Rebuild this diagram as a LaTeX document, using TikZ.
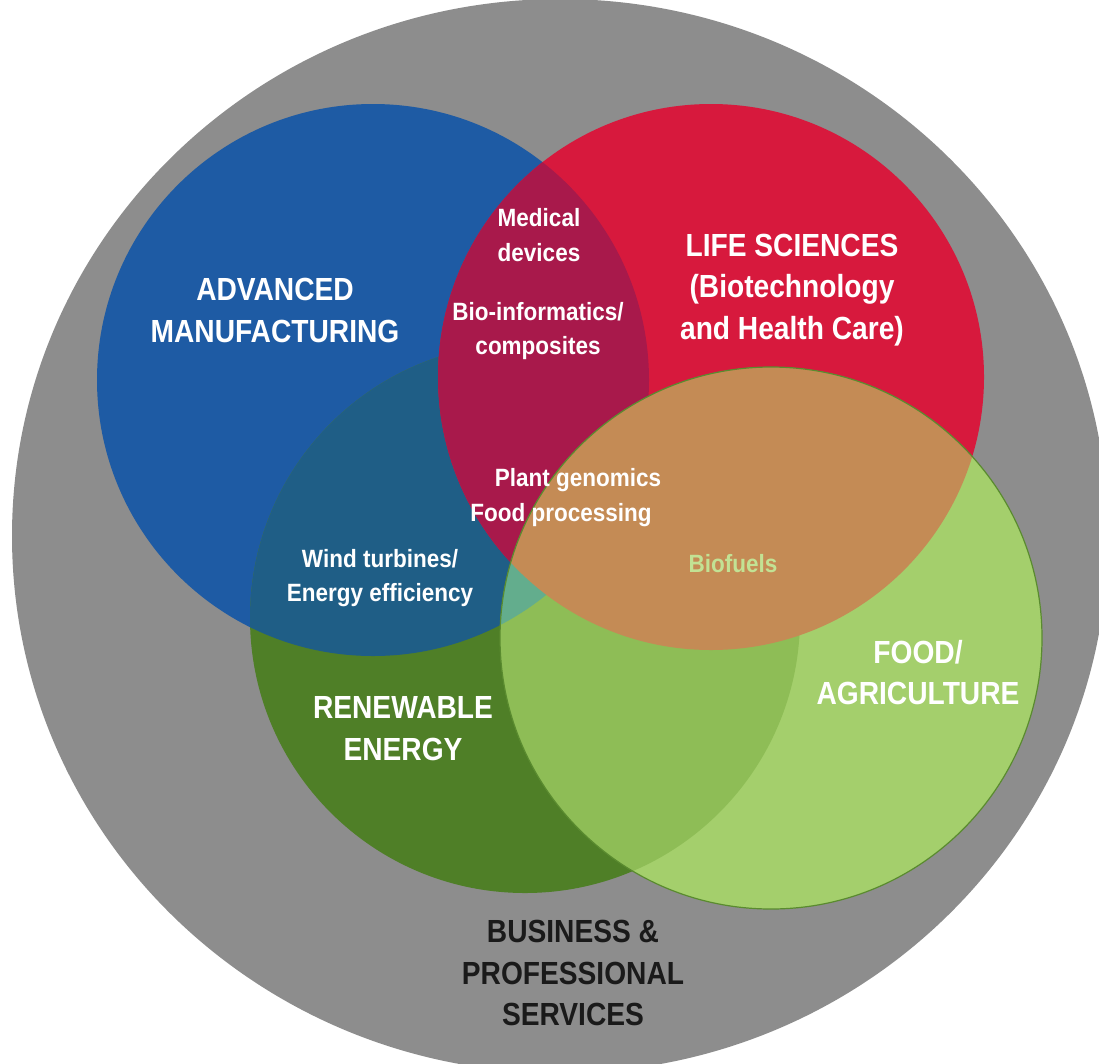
\documentclass[tikz,border=0pt]{standalone}
\usepackage{fontspec}
\setmainfont{Liberation Sans}[FakeStretch=0.9]
\newfontfamily\bigfont{Liberation Sans}[FakeStretch=0.88]
\definecolor{bggray}{HTML}{8D8D8D}
\definecolor{cblue}{HTML}{1E5BA4}
\definecolor{cdg}{HTML}{4F7F27}
\definecolor{cteal}{HTML}{1F5E86}
\definecolor{cred}{HTML}{D7193D}
\definecolor{ccrimson}{HTML}{A8194B}
\definecolor{clg}{HTML}{A4CF6C}
\definecolor{clgdg}{HTML}{8EBD56}
\definecolor{clgblue}{HTML}{63AD8D}
\definecolor{corange}{HTML}{C48B55}
\definecolor{coutline}{HTML}{5A8B2F}
\definecolor{cbiofuel}{HTML}{C2E294}
\definecolor{ctext}{HTML}{1A1A1A}
\begin{document}
\begin{tikzpicture}[x=1pt,y=-1pt,
  biglabel/.style={text=white, font=\bigfont\fontsize{32}{41.5}\selectfont\bfseries, align=center, inner sep=0pt},
  smalllabel/.style={text=white, font=\fontsize{25}{34.5}\selectfont\bfseries, align=center, inner sep=0pt},
  darklabel/.style={biglabel, text=ctext},
]
\useasboundingbox (0,0) rectangle (1099,1063);
\clip (0,0) rectangle (1099,1063);
\fill[white] (0,0) rectangle (1099,1063);
\def\blueC{(373,380) circle [radius=276]}
\def\dgC{(525,618) circle [radius=275]}
\def\redC{(711,377) circle [radius=273]}
\def\lgC{(771,638) circle [radius=271]}
% outer ellipse
\fill[bggray] (560,536) ellipse [x radius=548, y radius=537];
% blue and dark green
\fill[cblue] \blueC;
\fill[cdg] \dgC;
\begin{scope}\clip \blueC; \fill[cteal] \dgC; \end{scope}
% red
\fill[cred] \redC;
\begin{scope}\clip \redC; \fill[ccrimson] \blueC; \end{scope}
% light green
\fill[clg] \lgC;
\begin{scope}\clip \lgC; \fill[clgdg] \dgC; \end{scope}
\begin{scope}\clip \lgC; \clip \blueC; \fill[clgblue] \dgC; \end{scope}
\begin{scope}\clip \lgC; \fill[corange] \redC; \end{scope}
\draw[coutline, line width=1.2pt] \lgC;
% labels
\node[biglabel] (adv) at (275,310.5) {ADVANCED\\MANUFACTURING};
\node[biglabel] (life) at (792,290) {LIFE SCIENCES\\(Biotechnology\\and Health Care)};
\node[biglabel] (renew) at (403,728.5) {RENEWABLE\\ENERGY};
\node[biglabel] (food) at (918,672.5) {FOOD/\\AGRICULTURE};
\node[darklabel] (biz) at (573,973) {BUSINESS \&\\PROFESSIONAL\\SERVICES};
\node[smalllabel] (med) at (539,235) {Medical\\devices};
\node[smalllabel] (bioinf) at (538,331) {Bio-informatics/\\composites};
\node[smalllabel] (plant) at (578,480) {Plant genomics};
\node[smalllabel] (foodp) at (561,515) {Food processing};
\node[smalllabel] (wind) at (380,578) {Wind turbines/\\Energy efficiency};
\node[smalllabel, text=cbiofuel] (biofuel) at (733,564) {Biofuels};
\end{tikzpicture}
\end{document}
